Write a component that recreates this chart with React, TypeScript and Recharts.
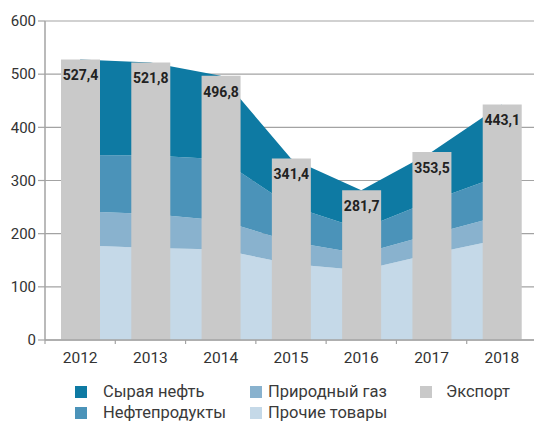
import React from 'react';
import { ComposedChart, Area, Bar, XAxis, YAxis, CartesianGrid, Legend, LabelList } from 'recharts';

const years = ['2012', '2013', '2014', '2015', '2016', '2017', '2018'];
const exportTotal = [527.4, 521.8, 496.8, 341.4, 281.7, 353.5, 443.1];
const crudeOil = [179.4, 174.8, 156.8, 89.4, 72.7, 91.5, 133.1];
const oilProducts = [106, 110, 115, 67, 47, 63, 76];
const naturalGas = [64, 64, 55, 42, 31, 37, 44];
const otherGoods = [178, 173, 170, 143, 131, 162, 190];
const yTicks = [0, 100, 200, 300, 400, 500, 600];

const C_CRUDE = '#0e7aa3';
const C_PROD = '#4b93b9';
const C_GAS = '#89b2ce';
const C_OTHER = '#c5d9e8';
const C_EXPORT = '#c9c9c9';
const GRID = '#a3a3a3';
const FONT = 'Roboto, "Liberation Sans", Arial, sans-serif';

const data = years.map((y, i) => ({
  year: y,
  export: exportTotal[i],
  crude: crudeOil[i],
  products: oilProducts[i],
  gas: naturalGas[i],
  other: otherGoods[i],
}));

const legendItems = [
  { name: 'Сырая нефть', color: C_CRUDE, sq: 75, tx: 103, row: 0 },
  { name: 'Нефтепродукты', color: C_PROD, sq: 75, tx: 103, row: 1 },
  { name: 'Природный газ', color: C_GAS, sq: 250, tx: 268, row: 0 },
  { name: 'Прочие товары', color: C_OTHER, sq: 250, tx: 268, row: 1 },
  { name: 'Экспорт', color: C_EXPORT, sq: 420, tx: 446, row: 0 },
];

const XTick = (props: any) => {
  const { x, y, payload, width } = props;
  const bw = width / years.length;
  const axisY = y - 8;
  return (
    <g>
      <line x1={x - bw / 2} x2={x - bw / 2} y1={axisY} y2={axisY + 4} stroke={GRID} strokeWidth={1.2} />
      <text x={x} y={y + 9.5} dy="0.35em" textAnchor="middle" fontSize={15.5} fill="#333" fontFamily={FONT}>
        {payload.value}
      </text>
    </g>
  );
};

const BarLabel = (props: any) => {
  const { x, y, width, value } = props;
  return (
    <text
      x={x + width / 2}
      y={y + 16}
      dy="0.35em"
      textAnchor="middle"
      fontSize={14}
      fontWeight="bold"
      fill="#222"
      fontFamily={FONT}
    >
      {Number(value).toFixed(1).replace('.', ',')}
    </text>
  );
};

const LegendContent = () => (
  <div style={{ position: 'relative', width: 534, height: 55, fontFamily: FONT }}>
    {legendItems.map((it) => {
      const cy = it.row === 0 ? 20.7 : 42.3;
      return (
        <React.Fragment key={it.name}>
          <div
            style={{
              position: 'absolute',
              left: it.sq,
              top: cy - 6,
              width: 12,
              height: 12,
              background: it.color,
            }}
          />
          <div
            style={{
              position: 'absolute',
              left: it.tx,
              top: cy - 10,
              height: 20,
              lineHeight: '20px',
              fontSize: 16.5,
              color: '#3a3a3a',
              whiteSpace: 'nowrap',
            }}
          >
            {it.name}
          </div>
        </React.Fragment>
      );
    })}
  </div>
);

export default function App() {
  return (
    <div
      style={{
        position: 'absolute',
        left: 0,
        top: 0,
        width: 534,
        height: 426,
        overflow: 'hidden',
        background: '#fff',
      }}
    >
      <ComposedChart
        width={540}
        height={426}
        data={data}
        margin={{ top: 21, right: 3, left: 0, bottom: 0 }}
        barCategoryGap={0}
      >
        <CartesianGrid vertical={false} stroke={GRID} strokeWidth={1.2} />
        <XAxis
          dataKey="year"
          height={31}
          axisLine={{ stroke: GRID, strokeWidth: 1.5 }}
          tickLine={false}
          tick={<XTick />}
          interval={0}
        />
        <YAxis
          width={45}
          domain={[0, 600]}
          ticks={yTicks}
          interval={0}
          tickSize={7}
          tickMargin={2}
          axisLine={{ stroke: GRID, strokeWidth: 1.5 }}
          tickLine={{ stroke: GRID, strokeWidth: 1.2 }}
          tick={{ fontSize: 15, fill: '#333', fontFamily: FONT }}
        />
        <Area type="linear" dataKey="other" stackId="a" stroke="none" fill={C_OTHER} fillOpacity={1} isAnimationActive={false} />
        <Area type="linear" dataKey="gas" stackId="a" stroke="none" fill={C_GAS} fillOpacity={1} isAnimationActive={false} />
        <Area type="linear" dataKey="products" stackId="a" stroke="none" fill={C_PROD} fillOpacity={1} isAnimationActive={false} />
        <Area type="linear" dataKey="crude" stackId="a" stroke="none" fill={C_CRUDE} fillOpacity={1} isAnimationActive={false} />
        <Bar dataKey="export" fill={C_EXPORT} barSize={39} isAnimationActive={false}>
          <LabelList dataKey="export" content={<BarLabel />} />
        </Bar>
        <Legend
          verticalAlign="bottom"
          content={<LegendContent />}
          wrapperStyle={{ left: 0, bottom: 0, width: 534, height: 55 }}
        />
      </ComposedChart>
    </div>
  );
}
